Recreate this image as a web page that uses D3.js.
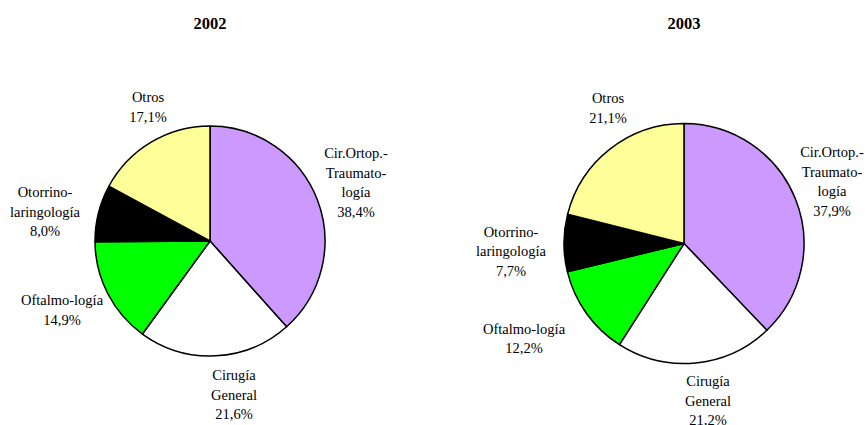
<!DOCTYPE html>
<html>
<head>
<meta charset="utf-8">
<script src="https://cdn.jsdelivr.net/npm/d3@7/dist/d3.min.js"></script>
<style>
  body { margin: 0; background: #fff; }
</style>
</head>
<body>
<script>
var w = 865;
var h = 425;

var categories = ["Cir.Ortop.-Traumatología", "Cirugía General", "Oftalmo-logía", "Otorrino-laringología", "Otros"];
var labelLines = [["Cir.Ortop.-", "Traumato-", "logía"], ["Cirugía", "General"], ["Oftalmo-logía"], ["Otorrino-", "laringología"], ["Otros"]];
var years = ["2002", "2003"];
var values2002 = [38.4, 21.6, 14.9, 8.0, 17.1];
var values2003 = [37.9, 21.2, 12.2, 7.7, 21.1];
var colors = ["#cc99ff", "#ffffff", "#00ff00", "#000000", "#ffff99"];

// layout of each pie: centre, radius and label offsets (first line centre, relative to pie centre)
var layouts = [
  { cx: 210, cy: 241, r: 115, tx: 210,
    off: [[146, -88], [24, 134], [-148, 59], [-165, -49], [-62, -144]] },
  { cx: 684, cy: 243.5, r: 120, tx: 684,
    off: [[148, -91.5], [24, 137.5], [-160, 85], [-173, -12], [-76, -145.5]] }
];
var series = [values2002, values2003];
var lineH = 19.5;
var serif = "'Liberation Serif', 'Times New Roman', Times, 'DejaVu Serif', serif";

var fmt = function(v) { return d3.format(".1f")(v).replace(".", ",") + "%"; };

var svg = d3.select("body")
  .append("svg")
  .attr("width", w)
  .attr("height", h);

var color = d3.scaleOrdinal().domain(categories).range(colors);

var pie = d3.pie()
  .sort(null)
  .value(function(d) { return d.value; });

series.forEach(function(vals, k) {
  var L = layouts[k];
  var data = vals.map(function(v, i) { return { cat: categories[i], value: v, idx: i }; });

  var arc = d3.arc().innerRadius(0).outerRadius(L.r);

  svg.append("text")
    .attr("x", L.tx)
    .attr("y", 23)
    .attr("dy", "0.35em")
    .attr("text-anchor", "middle")
    .attr("font-family", serif)
    .attr("font-size", 16.5)
    .attr("font-weight", "bold")
    .text(years[k]);

  var g = svg.append("g")
    .attr("transform", "translate(" + L.cx + "," + L.cy + ")");

  g.selectAll("path")
    .data(pie(data))
    .enter()
    .append("path")
    .attr("d", arc)
    .attr("fill", function(d) { return color(d.data.cat); })
    .attr("stroke", "#000")
    .attr("stroke-width", 1.5)
    .attr("stroke-linejoin", "round");

  var lab = g.selectAll("text.lab")
    .data(data)
    .enter()
    .append("text")
    .attr("class", "lab")
    .attr("text-anchor", "middle")
    .attr("font-family", serif)
    .attr("font-size", 14.5);

  lab.each(function(d) {
    var t = d3.select(this);
    var lines = labelLines[d.idx].concat([fmt(d.value)]);
    var o = L.off[d.idx];
    lines.forEach(function(s, j) {
      t.append("tspan")
        .attr("x", o[0])
        .attr("y", o[1] + j * lineH)
        .attr("dy", "0.35em")
        .text(s);
    });
  });
});
</script>
</body>
</html>
